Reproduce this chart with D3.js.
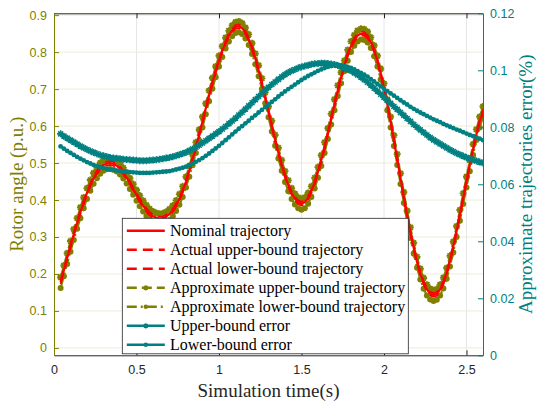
<!DOCTYPE html>
<html>
<head>
<meta charset="utf-8">
<script src="https://d3js.org/d3.v7.min.js"></script>
<style>
  html, body { margin: 0; padding: 0; background: #fff; }
  svg { display: block; }
</style>
</head>
<body>
<script>
// simulation time (s)
const timeS = [
  0.04, 0.06, 0.08, 0.10, 0.12, 0.14, 0.16, 0.18, 0.20, 0.22,
  0.24, 0.26, 0.28, 0.30, 0.32, 0.34, 0.36, 0.38, 0.40, 0.42,
  0.44, 0.46, 0.48, 0.50, 0.52, 0.54, 0.56, 0.58, 0.60, 0.62,
  0.64, 0.66, 0.68, 0.70, 0.72, 0.74, 0.76, 0.78, 0.80, 0.82,
  0.84, 0.86, 0.88, 0.90, 0.92, 0.94, 0.96, 0.98, 1.00, 1.02,
  1.04, 1.06, 1.08, 1.10, 1.12, 1.14, 1.16, 1.18, 1.20, 1.22,
  1.24, 1.26, 1.28, 1.30, 1.32, 1.34, 1.36, 1.38, 1.40, 1.42,
  1.44, 1.46, 1.48, 1.50, 1.52, 1.54, 1.56, 1.58, 1.60, 1.62,
  1.64, 1.66, 1.68, 1.70, 1.72, 1.74, 1.76, 1.78, 1.80, 1.82,
  1.84, 1.86, 1.88, 1.90, 1.92, 1.94, 1.96, 1.98, 2.00, 2.02,
  2.04, 2.06, 2.08, 2.10, 2.12, 2.14, 2.16, 2.18, 2.20, 2.22,
  2.24, 2.26, 2.28, 2.30, 2.32, 2.34, 2.36, 2.38, 2.40, 2.42,
  2.44, 2.46, 2.48, 2.50, 2.52, 2.54, 2.56, 2.58, 2.60
];

// rotor angle (p.u.)
const nominal = [
  .178, .210, .243, .276, .308, .338, .367, .394, .419, .441,
  .460, .475, .487, .495, .499, .500, .498, .493, .485, .474,
  .461, .446, .430, .414, .399, .385, .373, .363, .356, .352,
  .350, .351, .355, .362, .372, .386, .403, .424, .450, .479,
  .510, .543, .577, .612, .648, .683, .717, .748, .777, .803,
  .826, .845, .859, .868, .870, .865, .853, .835, .811, .783,
  .751, .716, .678, .640, .601, .563, .528, .495, .465, .440,
  .419, .404, .394, .390, .394, .406, .424, .447, .476, .508,
  .543, .581, .620, .659, .697, .732, .764, .793, .816, .833,
  .845, .850, .849, .842, .827, .805, .777, .742, .702, .659,
  .612, .562, .511, .459, .408, .358, .313, .271, .233, .201,
  .176, .158, .147, .143, .146, .158, .177, .203, .236, .274,
  .316, .360, .405, .450, .494, .538, .578, .612, .640
];
const actualUpper = [
  .183, .215, .248, .281, .313, .343, .372, .399, .424, .446,
  .465, .480, .492, .500, .504, .505, .503, .498, .490, .479,
  .466, .451, .435, .419, .404, .390, .378, .368, .361, .357,
  .355, .356, .360, .367, .377, .391, .408, .429, .455, .484,
  .515, .548, .582, .617, .653, .688, .722, .753, .782, .808,
  .831, .850, .864, .873, .875, .870, .858, .840, .816, .788,
  .756, .721, .683, .645, .606, .568, .533, .500, .470, .445,
  .424, .409, .399, .395, .399, .411, .429, .452, .481, .513,
  .548, .586, .625, .664, .702, .737, .769, .798, .821, .838,
  .850, .855, .854, .847, .832, .810, .782, .747, .707, .664,
  .617, .567, .516, .464, .413, .363, .318, .276, .238, .206,
  .181, .163, .152, .148, .151, .163, .182, .208, .241, .279,
  .321, .365, .410, .455, .499, .543, .583, .617, .645
];
const actualLower = [
  .173, .205, .238, .271, .303, .333, .362, .389, .414, .436,
  .455, .470, .482, .490, .494, .495, .493, .488, .480, .469,
  .456, .441, .425, .409, .394, .380, .368, .358, .351, .347,
  .345, .346, .350, .357, .367, .381, .398, .419, .445, .474,
  .505, .538, .572, .607, .643, .678, .712, .743, .772, .798,
  .821, .840, .854, .863, .865, .860, .848, .830, .806, .778,
  .746, .711, .673, .635, .596, .558, .523, .490, .460, .435,
  .414, .399, .389, .385, .389, .401, .419, .442, .471, .503,
  .538, .576, .615, .654, .692, .727, .759, .788, .811, .828,
  .840, .845, .844, .837, .822, .800, .772, .737, .697, .654,
  .607, .557, .506, .454, .403, .353, .308, .266, .228, .196,
  .171, .153, .142, .138, .141, .153, .172, .198, .231, .269,
  .311, .355, .400, .445, .489, .533, .573, .607, .635
];
const approxUpper = [
  .191, .223, .256, .289, .321, .351, .380, .407, .432, .454,
  .473, .488, .500, .508, .512, .513, .511, .506, .498, .487,
  .474, .459, .443, .427, .412, .398, .386, .376, .369, .365,
  .363, .364, .368, .375, .385, .399, .416, .437, .463, .492,
  .523, .556, .590, .625, .661, .696, .730, .761, .790, .816,
  .839, .858, .872, .881, .883, .878, .866, .848, .824, .796,
  .764, .729, .691, .653, .614, .576, .541, .508, .478, .453,
  .432, .417, .407, .403, .407, .419, .437, .460, .489, .521,
  .556, .594, .633, .672, .710, .745, .777, .806, .829, .846,
  .858, .863, .862, .855, .840, .818, .790, .755, .715, .672,
  .625, .575, .524, .472, .421, .371, .326, .284, .246, .214,
  .189, .171, .160, .156, .159, .171, .190, .216, .249, .287,
  .329, .373, .418, .463, .507, .551, .591, .625, .653
];
const approxLower = [
  .162, .194, .227, .260, .292, .322, .351, .378, .403, .425,
  .444, .459, .471, .479, .483, .484, .482, .477, .469, .458,
  .445, .430, .414, .398, .383, .369, .357, .347, .340, .336,
  .334, .335, .339, .346, .356, .370, .387, .408, .434, .463,
  .494, .527, .561, .596, .632, .667, .701, .732, .761, .787,
  .810, .829, .843, .852, .854, .849, .837, .819, .795, .767,
  .735, .700, .662, .624, .585, .547, .512, .479, .449, .424,
  .403, .388, .378, .374, .378, .390, .408, .431, .460, .492,
  .527, .565, .604, .643, .681, .716, .748, .777, .800, .817,
  .829, .834, .833, .826, .811, .789, .761, .726, .686, .643,
  .596, .546, .495, .443, .392, .342, .297, .255, .217, .185,
  .160, .142, .131, .127, .130, .142, .161, .187, .220, .258,
  .300, .344, .389, .434, .478, .522, .562, .596, .624
];

// approximate trajectories error (%)
const upperError = [
  .0777, .0769, .0762, .0755, .0748, .0741, .0734, .0728, .0722, .0717,
  .0712, .0707, .0703, .0700, .0697, .0694, .0692, .0691, .0690, .0688,
  .0687, .0686, .0685, .0684, .0683, .0683, .0683, .0684, .0685, .0686,
  .0688, .0690, .0692, .0694, .0697, .0700, .0704, .0708, .0712, .0718,
  .0724, .0730, .0737, .0745, .0753, .0761, .0769, .0777, .0785, .0794,
  .0803, .0813, .0822, .0832, .0843, .0853, .0864, .0875, .0886, .0897,
  .0908, .0919, .0930, .0940, .0950, .0959, .0968, .0977, .0985, .0992,
  .0998, .1003, .1008, .1012, .1015, .1018, .1021, .1023, .1024, .1025,
  .1025, .1024, .1022, .1020, .1017, .1013, .1008, .1003, .0998, .0991,
  .0984, .0976, .0967, .0958, .0948, .0937, .0927, .0916, .0905, .0894,
  .0884, .0873, .0863, .0852, .0842, .0831, .0821, .0810, .0800, .0791,
  .0782, .0773, .0764, .0756, .0749, .0742, .0735, .0728, .0721, .0715,
  .0709, .0704, .0699, .0694, .0690, .0686, .0682, .0678, .0675
];
const lowerError = [
  .0733, .0725, .0717, .0710, .0703, .0696, .0690, .0684, .0678, .0673,
  .0668, .0664, .0660, .0657, .0654, .0652, .0650, .0648, .0647, .0645,
  .0644, .0643, .0642, .0641, .0640, .0640, .0640, .0640, .0641, .0642,
  .0643, .0644, .0645, .0646, .0649, .0652, .0655, .0658, .0662, .0667,
  .0673, .0679, .0685, .0692, .0700, .0708, .0717, .0726, .0735, .0745,
  .0755, .0765, .0775, .0785, .0795, .0804, .0814, .0823, .0833, .0842,
  .0852, .0861, .0871, .0880, .0889, .0898, .0908, .0917, .0926, .0934,
  .0942, .0950, .0958, .0966, .0973, .0980, .0986, .0992, .0998, .1003,
  .1008, .1012, .1015, .1017, .1018, .1017, .1015, .1012, .1008, .1003,
  .0997, .0991, .0985, .0978, .0969, .0961, .0952, .0944, .0935, .0927,
  .0919, .0911, .0903, .0895, .0887, .0880, .0872, .0865, .0858, .0852,
  .0846, .0840, .0834, .0828, .0823, .0818, .0812, .0807, .0802, .0797,
  .0792, .0788, .0783, .0778, .0773, .0769, .0764, .0760, .0755
];

const xTicks = [0, 0.5, 1, 1.5, 2, 2.5];
const leftTicks = [0, 0.1, 0.2, 0.3, 0.4, 0.5, 0.6, 0.7, 0.8, 0.9];
const rightTicks = [0, 0.02, 0.04, 0.06, 0.08, 0.1, 0.12];
const legendLabels = [
  "Nominal trajectory",
  "Actual upper-bound trajectory",
  "Actual lower-bound trajectory",
  "Approximate upper-bound trajectory",
  "Approximate lower-bound trajectory",
  "Upper-bound error",
  "Lower-bound error"
];

const olive = "#808000", teal = "#008080", red = "#ff0000", dark = "#262626";
const sans = "'Liberation Sans', Arial, Helvetica, sans-serif";
const serif = "'Liberation Serif', 'Times New Roman', serif";

// set the dimensions and margins of the graph
var margin = { top: 13.3, right: 55, bottom: 46.7, left: 54 },
    width = 538 - margin.left - margin.right,
    height = 402 - margin.top - margin.bottom;

var svg = d3.select("body").append("svg")
    .attr("width", 538)
    .attr("height", 402)
  .append("g")
    .attr("transform", `translate(${margin.left}, ${margin.top})`);

var x = d3.scaleLinear().domain([0, 2.6]).range([0, width]);
var yL = d3.scaleLinear().domain([-0.02, 0.905]).range([height, 0]);
var yR = d3.scaleLinear().domain([0, 0.12]).range([height, 0]);

// grid
svg.append("g").selectAll("line").data(xTicks.filter(d => d > 0)).join("line")
    .attr("x1", d => x(d)).attr("x2", d => x(d))
    .attr("y1", 0).attr("y2", height)
    .attr("stroke", "#e6e6e6").attr("stroke-width", 1);
svg.append("g").selectAll("line").data(leftTicks).join("line")
    .attr("x1", 0).attr("x2", width)
    .attr("y1", d => yL(d)).attr("y2", d => yL(d))
    .attr("stroke", "#ececd9").attr("stroke-width", 1);

// data
svg.append("clipPath").attr("id", "plotclip")
  .append("rect").attr("width", width).attr("height", height);
var plot = svg.append("g").attr("clip-path", "url(#plotclip)");

const pts = arr => arr.map((v, i) => ({ t: timeS[i], v: v }));
const lineL = d3.line().x(d => x(d.t)).y(d => yL(d.v));
const lineR = d3.line().x(d => x(d.t)).y(d => yR(d.v));
const asterisk = "M-3.5,0H3.5M0,-3.5V3.5M-2.5,-2.5L2.5,2.5M-2.5,2.5L2.5,-2.5";

// approximate bounds (olive)
plot.append("path").datum(pts(approxUpper))
    .attr("fill", "none").attr("stroke", olive).attr("stroke-width", 2)
    .attr("stroke-dasharray", "10,5").attr("d", lineL);
plot.append("path").datum(pts(approxLower))
    .attr("fill", "none").attr("stroke", olive).attr("stroke-width", 2)
    .attr("stroke-dasharray", "10,4,2,4").attr("d", lineL);
plot.append("g").selectAll("path").data(pts(approxUpper)).join("path")
    .attr("transform", d => `translate(${x(d.t)},${yL(d.v)})`)
    .attr("d", asterisk).attr("fill", "none")
    .attr("stroke", olive).attr("stroke-width", 1.9);
plot.append("g").selectAll("circle").data(pts(approxLower)).join("circle")
    .attr("cx", d => x(d.t)).attr("cy", d => yL(d.v)).attr("r", 3)
    .attr("fill", olive);

// nominal and actual bounds (red)
plot.append("path").datum(pts(actualUpper))
    .attr("fill", "none").attr("stroke", red).attr("stroke-width", 1.8)
    .attr("stroke-dasharray", "10,6").attr("d", lineL);
plot.append("path").datum(pts(actualLower))
    .attr("fill", "none").attr("stroke", red).attr("stroke-width", 1.8)
    .attr("stroke-dasharray", "10,6").attr("d", lineL);
plot.append("path").datum(pts(nominal))
    .attr("fill", "none").attr("stroke", red).attr("stroke-width", 2.2)
    .attr("d", lineL);

// errors (teal, right axis)
plot.append("path").datum(pts(upperError))
    .attr("fill", "none").attr("stroke", teal).attr("stroke-width", 2.2)
    .attr("d", lineR);
plot.append("g").selectAll("path").data(pts(upperError)).join("path")
    .attr("transform", d => `translate(${x(d.t)},${yR(d.v)})`)
    .attr("d", asterisk).attr("fill", "none")
    .attr("stroke", teal).attr("stroke-width", 1.6);
plot.append("path").datum(pts(lowerError))
    .attr("fill", "none").attr("stroke", teal).attr("stroke-width", 2.2)
    .attr("d", lineR);
plot.append("g").selectAll("circle").data(pts(lowerError)).join("circle")
    .attr("cx", d => x(d.t)).attr("cy", d => yR(d.v)).attr("r", 2.4)
    .attr("fill", teal);

// axes
function styleAxis(g, color) {
  g.attr("font-family", sans).attr("font-size", 12.5);
  g.selectAll("path, line").attr("stroke", color);
  g.selectAll("text").attr("fill", color);
}

svg.append("g")
    .attr("transform", `translate(0, ${height})`)
    .call(d3.axisBottom(x).tickValues(xTicks).tickFormat(d3.format("~g"))
      .tickSizeInner(-5).tickSizeOuter(0).tickPadding(10))
    .call(g => styleAxis(g, dark));

svg.append("g")
    .call(d3.axisTop(x).tickValues(xTicks).tickFormat("")
      .tickSizeInner(-5).tickSizeOuter(0))
    .call(g => styleAxis(g, dark));

svg.append("g")
    .call(d3.axisLeft(yL).tickValues(leftTicks).tickFormat(d3.format("~g"))
      .tickSizeInner(-5).tickSizeOuter(0).tickPadding(7))
    .call(g => styleAxis(g, olive));

svg.append("g")
    .attr("transform", `translate(${width}, 0)`)
    .call(d3.axisRight(yR).tickValues(rightTicks).tickFormat(d3.format("~g"))
      .tickSizeInner(-5).tickSizeOuter(0).tickPadding(7))
    .call(g => styleAxis(g, teal));

// axis labels
svg.append("text")
    .attr("x", width / 2).attr("y", 383.5)
    .attr("text-anchor", "middle")
    .attr("font-family", serif).attr("font-size", 19).attr("fill", dark)
    .text("Simulation time(s)");
svg.append("text")
    .attr("transform", `translate(${23 - margin.left}, ${height / 2}) rotate(-90)`)
    .attr("text-anchor", "middle")
    .attr("font-family", serif).attr("font-size", 19).attr("fill", olive)
    .text("Rotor angle (p.u.)");
svg.append("text")
    .attr("transform", `translate(${532 - margin.left}, ${height / 2}) rotate(-90)`)
    .attr("text-anchor", "middle")
    .attr("font-family", serif).attr("font-size", 19).attr("fill", teal)
    .text("Approximate trajectories error(%)");

// legend
var legend = svg.append("g")
    .attr("transform", `translate(${122.3 - margin.left}, ${218.3 - margin.top})`);
legend.append("rect")
    .attr("width", 286).attr("height", 135.5)
    .attr("fill", "#fff").attr("stroke", dark).attr("stroke-width", 0.8);

const legendStyle = [
  { color: red, dash: null, marker: null },
  { color: red, dash: "10,6", marker: null },
  { color: red, dash: "10,6", marker: null },
  { color: olive, dash: "10,5", marker: "star" },
  { color: olive, dash: "10,4,2,4", marker: "dot" },
  { color: teal, dash: null, marker: "star" },
  { color: teal, dash: null, marker: "dot" }
];

var rows = legend.selectAll("g.row").data(legendLabels).join("g")
    .attr("class", "row")
    .attr("transform", (d, i) => `translate(0, ${12.5 + i * 19})`);
rows.append("line")
    .attr("x1", 4.5).attr("x2", 42.5).attr("y1", 0).attr("y2", 0)
    .attr("stroke", (d, i) => legendStyle[i].color)
    .attr("stroke-width", 2.4)
    .attr("stroke-dasharray", (d, i) => legendStyle[i].dash);
rows.filter((d, i) => legendStyle[i].marker === "star").append("path")
    .attr("transform", "translate(23.5, 0) scale(0.75)")
    .attr("d", asterisk).attr("fill", "none")
    .attr("stroke", d => legendStyle[legendLabels.indexOf(d)].color)
    .attr("stroke-width", 1.8);
rows.filter((d, i) => legendStyle[i].marker === "dot").append("circle")
    .attr("cx", 23.5).attr("cy", 0).attr("r", 2.2)
    .attr("fill", d => legendStyle[legendLabels.indexOf(d)].color);
rows.append("text")
    .attr("x", 47.7).attr("y", 5.3)
    .attr("font-family", serif).attr("font-size", 16).attr("fill", "#000")
    .text(d => d);
</script>
</body>
</html>
